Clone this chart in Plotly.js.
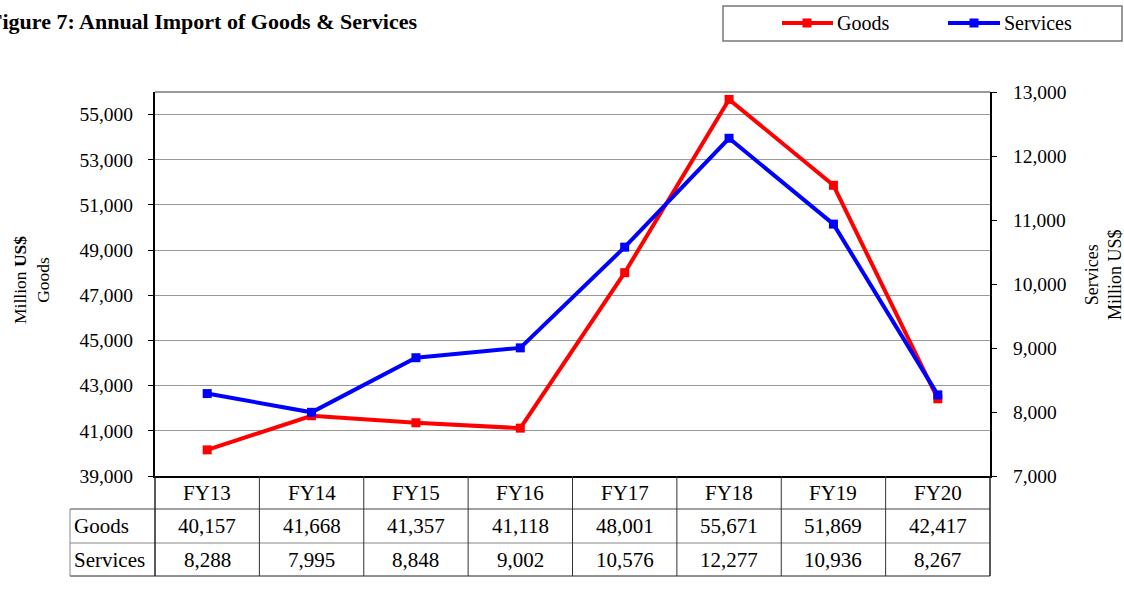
<!DOCTYPE html>
<html><head><meta charset="utf-8">
<script src="https://cdn.plot.ly/plotly-3.0.1.min.js"></script>
<style>html,body{margin:0;padding:0;background:#fff;}#chart{width:1124px;height:597px;}</style>
</head><body><div id="chart"></div>
<script>
const categories = ["FY13","FY14","FY15","FY16","FY17","FY18","FY19","FY20"];
const goods = [40157,41668,41357,41118,48001,55671,51869,42417];
const services = [8288,7995,8848,9002,10576,12277,10936,8267];
const seriesNames = ["Goods","Services"];
const colors = ["#ff0000","#0000ff"];

const W=1124,H=597,L=155,R=990,T=92,B=476;
const px = x => (x-L)/(R-L);
const py = y => (B-y)/(B-T);
const serif = "Liberation Serif";
const fmt = v => v.toLocaleString("en-US");

const traces = [
  {x:categories,y:goods,name:seriesNames[0],type:"scatter",mode:"lines+markers",
   line:{color:colors[0],width:4},marker:{symbol:"square",size:9,color:colors[0]},yaxis:"y",showlegend:false,cliponaxis:false},
  {x:categories,y:services,name:seriesNames[1],type:"scatter",mode:"lines+markers",
   line:{color:colors[1],width:4},marker:{symbol:"square",size:9,color:colors[1]},yaxis:"y2",showlegend:false,cliponaxis:false}
];

const shapes=[], ann=[];
const A = (o)=>Object.assign({xref:"paper",yref:"paper",showarrow:false,xanchor:"center",yanchor:"middle",borderpad:0},o);
// frame top
shapes.push({type:"line",xref:"paper",yref:"paper",x0:0,x1:1,y0:1,y1:1,line:{color:"#999",width:2}});
// table grid
shapes.push({type:"line",xref:"paper",yref:"paper",x0:px(70),x1:1,y0:py(509),y1:py(509),line:{color:"#444",width:1}});
shapes.push({type:"line",xref:"paper",yref:"paper",x0:px(70),x1:1,y0:py(543),y1:py(543),line:{color:"#888",width:1}});
shapes.push({type:"line",xref:"paper",yref:"paper",x0:px(70),x1:1,y0:py(576),y1:py(576),line:{color:"#222",width:1}});
shapes.push({type:"line",xref:"paper",yref:"paper",x0:px(70),x1:px(70),y0:py(509),y1:py(576),line:{color:"#888",width:1}});
shapes.push({type:"line",xref:"paper",yref:"paper",x0:0,x1:0,y0:0,y1:py(576),line:{color:"#222",width:1.5}});
shapes.push({type:"line",xref:"paper",yref:"paper",x0:1,x1:1,y0:0,y1:py(576),line:{color:"#222",width:1.5}});
for(let i=1;i<categories.length;i++){
  shapes.push({type:"line",xref:"x",yref:"paper",x0:i-0.5,x1:i-0.5,y0:0,y1:py(576),line:{color:"#333",width:1}});
}
// table text
const rowMid = (a,b)=>py((a+b)/2);
const tf = {family:serif,size:21,color:"#000"};
categories.forEach((c,i)=>{
  ann.push(A({xref:"x",x:c,y:rowMid(476,509),text:c,font:tf}));
  ann.push(A({xref:"x",x:c,y:rowMid(509,543),text:fmt(goods[i]),font:tf}));
  ann.push(A({xref:"x",x:c,y:rowMid(543,576),text:fmt(services[i]),font:tf}));
});
ann.push(A({x:px(73),xanchor:"left",y:rowMid(509,543),text:seriesNames[0],font:tf}));
ann.push(A({x:px(73),xanchor:"left",y:rowMid(543,576),text:seriesNames[1],font:tf}));
// title
ann.push(A({x:px(-12),xanchor:"left",y:py(21),text:"<b>Figure 7: Annual Import of Goods &amp; Services</b>",font:{family:serif,size:22,color:"#000"}}));
// axis titles
ann.push(A({x:px(31),y:py(280),textangle:-90,text:"Million <b>US$</b><br>Goods",font:{family:serif,size:17.5,color:"#000"}}));
ann.push(A({x:px(1103),y:py(275),textangle:-90,text:"Services<br>Million US$",font:{family:serif,size:18,color:"#000"}}));
// legend
shapes.push({type:"rect",xref:"paper",yref:"paper",x0:px(723),x1:px(1122),y0:py(41),y1:py(6),line:{color:"#777",width:1.5},fillcolor:"rgba(0,0,0,0)"});
const leg=[[782,833,807,836],[948,1000,974,1003]];
leg.forEach((g,k)=>{
  shapes.push({type:"line",xref:"paper",yref:"paper",x0:px(g[0]),x1:px(g[1]),y0:py(23),y1:py(23),line:{color:colors[k],width:4}});
  shapes.push({type:"rect",xref:"paper",yref:"paper",x0:px(g[2]-4.5),x1:px(g[2]+4.5),y0:py(27.5),y1:py(18.5),line:{width:0},fillcolor:colors[k]});
  ann.push(A({x:px(g[3]),xanchor:"left",y:py(23),text:seriesNames[k],font:{family:serif,size:20,color:"#000"}}));
});

const tickf = {family:serif,size:19.5,color:"#000"};
const layout = {
  width:W,height:H,margin:{l:L,r:W-R,t:T,b:H-B,pad:0},
  paper_bgcolor:"#fff",plot_bgcolor:"#fff",showlegend:false,
  font:{family:serif,size:18,color:"#000"},
  xaxis:{type:"category",range:[-0.5,7.5],showticklabels:false,showgrid:false,zeroline:false,
    showline:true,linecolor:"#000",linewidth:2,ticks:""},
  yaxis:{range:[39000,56000],tick0:39000,dtick:2000,tickformat:",d",showgrid:true,gridcolor:"#999",gridwidth:1,
    zeroline:false,showline:true,linecolor:"#000",linewidth:2,ticks:"outside",ticklen:5,tickcolor:"#000",
    ticklabelstandoff:11,tickfont:tickf},
  yaxis2:{overlaying:"y",side:"right",range:[7000,13000],dtick:1000,tickformat:",d",showgrid:false,zeroline:false,
    showline:true,linecolor:"#000",linewidth:2,ticks:"outside",ticklen:5,tickcolor:"#000",
    ticklabelstandoff:12,tickfont:tickf},
  shapes:shapes,annotations:ann
};
Plotly.newPlot("chart",traces,layout,{displayModeBar:false,staticPlot:true});
</script></body></html>
